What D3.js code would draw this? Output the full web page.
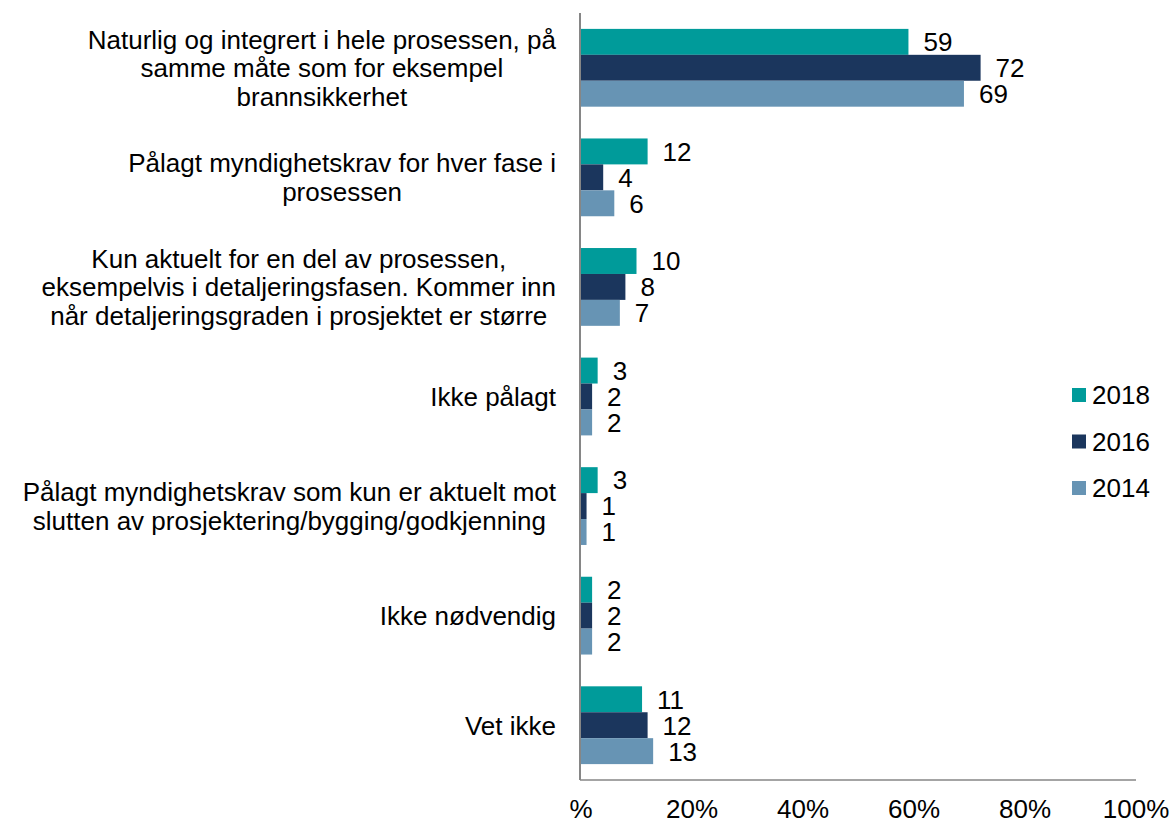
<!DOCTYPE html>
<html>
<head>
<meta charset="utf-8">
<script src="https://d3js.org/d3.v7.min.js"></script>
<style>
  body { margin: 0; background: #fff; }
  text { font-family: "Liberation Sans", Arial, sans-serif; fill: #000; }
</style>
</head>
<body>
<svg id="chart" width="1172" height="824"></svg>
<script>
// categories, each already broken into the lines shown in the chart
var categories = [
  ["Naturlig og integrert i hele prosessen, på", "samme måte som for eksempel", "brannsikkerhet"],
  ["Pålagt myndighetskrav for hver fase i", "prosessen"],
  ["Kun aktuelt for en del av prosessen,", "eksempelvis i detaljeringsfasen. Kommer inn", "når detaljeringsgraden i prosjektet er større"],
  ["Ikke pålagt"],
  ["Pålagt myndighetskrav som kun er aktuelt mot", "slutten av prosjektering/bygging/godkjenning"],
  ["Ikke nødvendig"],
  ["Vet ikke"]
];
var years = ["2018", "2016", "2014"];
var values2018 = [59, 12, 10, 3, 3, 2, 11];
var values2016 = [72, 4, 8, 2, 1, 2, 12];
var values2014 = [69, 6, 7, 2, 1, 2, 13];
var tickValues = [0, 20, 40, 60, 80, 100];
var tickLabels = ["%", "20%", "40%", "60%", "80%", "100%"];

var series = [values2018, values2016, values2014];
var colors = ["#009b9a", "#1b365d", "#6794b4"];
var fontSize = '26px';

var svg = d3.select('#chart');
var plotLeft = 581, plotRight = 1136, plotTop = 13, plotBottom = 780;

var x = d3.scaleLinear().domain([0, 100]).range([plotLeft, plotRight]);
var y = d3.scaleBand().domain(d3.range(categories.length)).range([plotTop, plotBottom]).paddingInner(0.29).paddingOuter(0.145);
var ySub = d3.scaleBand().domain(d3.range(years.length)).range([0, y.bandwidth()]);

// bars
series.forEach(function(vals, s) {
  var g = svg.append('g');
  g.selectAll('rect')
    .data(vals)
    .enter().append('rect')
      .attr('x', x(0))
      .attr('y', function(d, i) { return y(i) + ySub(s); })
      .attr('width', function(d) { return x(d) - x(0); })
      .attr('height', ySub.bandwidth())
      .attr('fill', colors[s]);
  g.selectAll('text')
    .data(vals)
    .enter().append('text')
      .attr('x', function(d) { return x(d) + 15; })
      .attr('y', function(d, i) { return y(i) + ySub(s) + ySub.bandwidth() / 2; })
      .attr('dy', '0.36em')
      .style('font-size', fontSize)
      .text(function(d) { return d; });
});

// axis lines
svg.append('line')
  .attr('x1', plotLeft - 1).attr('x2', plotLeft - 1)
  .attr('y1', plotTop).attr('y2', plotBottom)
  .attr('stroke', '#868686').attr('stroke-width', 2);
svg.append('line')
  .attr('x1', plotLeft - 1).attr('x2', plotRight)
  .attr('y1', plotBottom).attr('y2', plotBottom)
  .attr('stroke', '#868686').attr('stroke-width', 1.5);

// x tick labels
svg.append('g').selectAll('text')
  .data(tickValues)
  .enter().append('text')
    .attr('x', function(d) { return x(d); })
    .attr('y', 818)
    .attr('text-anchor', 'middle')
    .style('font-size', fontSize)
    .text(function(d, i) { return tickLabels[i]; });

// category labels: block right-aligned to the axis, lines centred in the block
var lineH = 28.5;
categories.forEach(function(lines, i) {
  var g = svg.append('g');
  var texts = lines.map(function(l, j) {
    return g.append('text')
      .attr('y', y(i) + y.bandwidth() / 2 + (j - (lines.length - 1) / 2) * lineH)
      .attr('dy', '0.36em')
      .attr('text-anchor', 'middle')
      .style('font-size', fontSize)
      .text(l);
  });
  var w = d3.max(texts, function(t) { return t.node().getComputedTextLength(); });
  texts.forEach(function(t) { t.attr('x', 556 - w / 2); });
});

// legend
var legend = svg.append('g');
years.forEach(function(yr, i) {
  var cy = 395 + i * 46.5;
  legend.append('rect')
    .attr('x', 1072).attr('y', cy - 7)
    .attr('width', 14).attr('height', 14)
    .attr('fill', colors[i]);
  legend.append('text')
    .attr('x', 1092).attr('y', cy)
    .attr('dy', '0.36em')
    .style('font-size', fontSize)
    .text(yr);
});
</script>
</body>
</html>
